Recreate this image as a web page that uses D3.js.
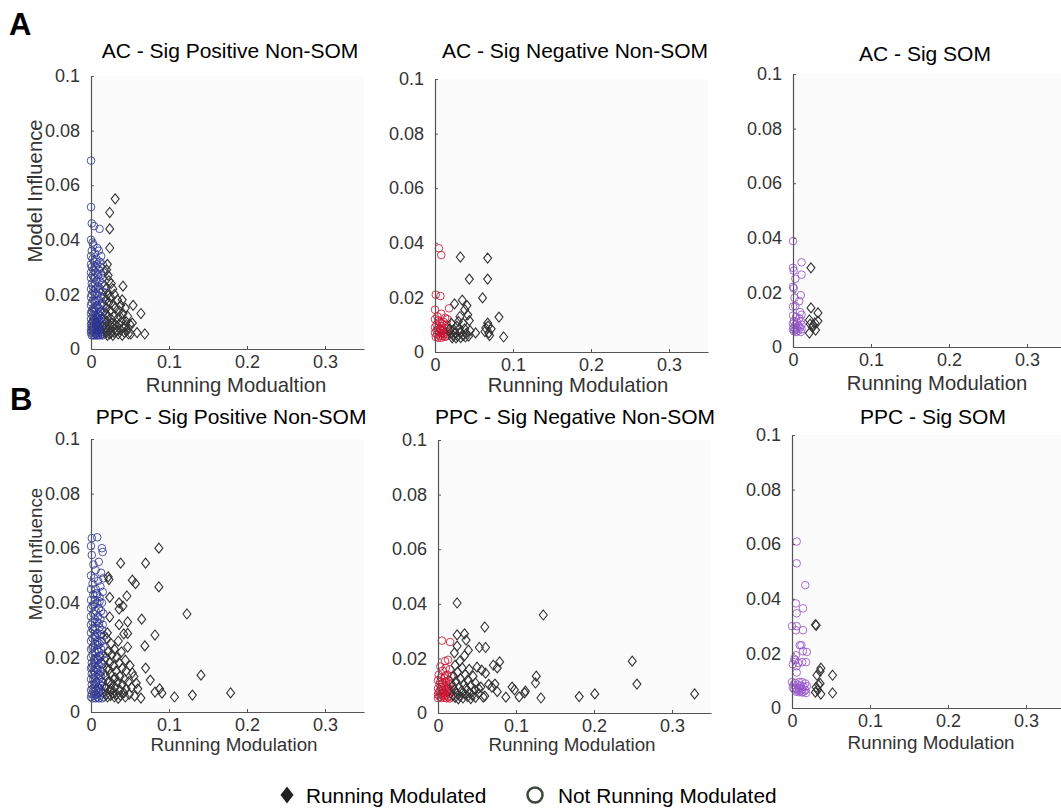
<!DOCTYPE html>
<html>
<head>
<meta charset="utf-8">
<script src="https://cdn.jsdelivr.net/npm/d3@7"></script>
<style>
  body { margin: 0; background: #fff; }
  text { font-family: "Liberation Sans", Arial, Helvetica, sans-serif; }
</style>
</head>
<body>
<script>
// ticks shared by every panel
var xTicks = [0, 0.1, 0.2, 0.3];
var yTicks = [0, 0.02, 0.04, 0.06, 0.08, 0.1];

// AC - Sig Positive Non-SOM
var acPosNot = [[0.000,0.069],[0.000,0.052],[0.001,0.046],[0.004,0.045],[0.011,0.044],[0.000,0.040],[0.002,0.039],[0.008,0.037],[0.003,0.038],[0.010,0.036],[0.001,0.036],[0.005,0.035],[0.013,0.034],[0.000,0.034],[0.007,0.033],[0.002,0.033],[0.011,0.032],[0.004,0.032],[0.015,0.031],[0.000,0.031],[0.008,0.031],[0.006,0.030],[0.012,0.030],[0.001,0.030],[0.003,0.029],[0.010,0.029],[0.016,0.028],[0.000,0.028],[0.006,0.028],[0.013,0.027],[0.002,0.027],[0.009,0.027],[0.004,0.026],[0.015,0.026],[0.000,0.026],[0.011,0.025],[0.007,0.025],[0.001,0.024],[0.005,0.024],[0.014,0.024],[0.009,0.023],[0.002,0.023],[0.017,0.023],[0.000,0.022],[0.006,0.022],[0.012,0.022],[0.003,0.021],[0.010,0.021],[0.015,0.021],[0.001,0.020],[0.008,0.020],[0.005,0.020],[0.013,0.019],[0.000,0.019],[0.017,0.019],[0.003,0.018],[0.010,0.018],[0.007,0.018],[0.014,0.017],[0.001,0.017],[0.005,0.017],[0.012,0.016],[0.000,0.016],[0.008,0.016],[0.016,0.016],[0.003,0.015],[0.010,0.015],[0.006,0.015],[0.013,0.014],[0.001,0.014],[0.017,0.014],[0.004,0.014],[0.009,0.013],[0.000,0.013],[0.015,0.013],[0.006,0.012],[0.011,0.012],[0.002,0.012],[0.013,0.011],[0.008,0.011],[0.000,0.011],[0.004,0.011],[0.016,0.011],[0.010,0.010],[0.002,0.010],[0.006,0.010],[0.014,0.010],[0.000,0.009],[0.008,0.009],[0.012,0.009],[0.004,0.009],[0.017,0.009],[0.001,0.008],[0.010,0.008],[0.006,0.008],[0.014,0.008],[0.003,0.008],[0.000,0.007],[0.008,0.007],[0.012,0.007],[0.005,0.007],[0.016,0.007],[0.002,0.007],[0.010,0.006],[0.000,0.006],[0.007,0.006],[0.013,0.006],[0.004,0.006],[0.017,0.006],[0.001,0.005],[0.009,0.005],[0.005,0.005],[0.012,0.005],[0.015,0.005],[0.003,0.005],[0.007,0.005],[0.002,0.0065],[0.006,0.0055],[0.011,0.0065],[0.014,0.0055],[0.004,0.0075],[0.009,0.0085],[0.013,0.0075],[0.001,0.0095],[0.007,0.0095],[0.015,0.0085],[0.003,0.0105],[0.011,0.0105],[0.005,0.0125],[0.009,0.0115],[0.002,0.0135],[0.012,0.0135]];
var acPosMod = [[0.031,0.055],[0.024,0.050],[0.024,0.044],[0.024,0.037],[0.021,0.031],[0.022,0.027],[0.041,0.023],[0.054,0.016],[0.064,0.013],[0.069,0.0055],[0.059,0.006],[0.051,0.0055],[0.053,0.0095],[0.040,0.018],[0.020,0.029],[0.023,0.025],[0.026,0.024],[0.019,0.022],[0.028,0.022],[0.021,0.020],[0.030,0.020],[0.025,0.019],[0.019,0.018],[0.034,0.018],[0.023,0.017],[0.028,0.016],[0.038,0.016],[0.020,0.015],[0.031,0.015],[0.044,0.015],[0.025,0.014],[0.036,0.014],[0.019,0.013],[0.041,0.013],[0.029,0.012],[0.047,0.012],[0.022,0.012],[0.034,0.011],[0.026,0.011],[0.039,0.010],[0.020,0.010],[0.045,0.010],[0.031,0.009],[0.024,0.009],[0.036,0.009],[0.050,0.009],[0.019,0.008],[0.028,0.008],[0.042,0.008],[0.033,0.007],[0.022,0.007],[0.047,0.007],[0.038,0.007],[0.026,0.006],[0.020,0.006],[0.030,0.006],[0.043,0.006],[0.035,0.0055],[0.024,0.0055],[0.048,0.0055],[0.021,0.005],[0.028,0.005],[0.040,0.005],[0.032,0.0065],[0.037,0.012],[0.027,0.0095],[0.044,0.0085]];

// AC - Sig Negative Non-SOM
var acNegNot = [[0.005,0.038],[0.008,0.0355],[0.001,0.021],[0.007,0.0205],[0.000,0.0155],[0.018,0.016],[0.008,0.014],[0.003,0.013],[0.013,0.0125],[0.000,0.012],[0.006,0.011],[0.011,0.011],[0.002,0.010],[0.015,0.010],[0.008,0.0095],[0.000,0.009],[0.004,0.0088],[0.012,0.0088],[0.017,0.0085],[0.007,0.008],[0.002,0.0078],[0.010,0.0078],[0.014,0.0075],[0.005,0.0072],[0.000,0.007],[0.008,0.0068],[0.012,0.0066],[0.016,0.0065],[0.003,0.0064],[0.006,0.006],[0.010,0.0058],[0.001,0.0055],[0.013,0.0056],[0.004,0.0052],[0.008,0.0052],[0.015,0.0058],[0.011,0.007],[0.006,0.0085],[0.009,0.0105],[0.004,0.0115],[0.016,0.012]];
var acNegMod = [[0.0325,0.0348],[0.0675,0.0344],[0.044,0.0267],[0.0675,0.0267],[0.061,0.0198],[0.082,0.0128],[0.088,0.0055],[0.052,0.007],[0.025,0.0176],[0.035,0.019],[0.041,0.017],[0.032,0.013],[0.042,0.0136],[0.0675,0.0106],[0.065,0.0088],[0.069,0.007],[0.038,0.0155],[0.044,0.0115],[0.036,0.0105],[0.021,0.0105],[0.028,0.0095],[0.019,0.0085],[0.024,0.0082],[0.031,0.0085],[0.038,0.0085],[0.045,0.0078],[0.020,0.007],[0.026,0.0068],[0.033,0.0072],[0.040,0.0068],[0.023,0.006],[0.029,0.0058],[0.036,0.006],[0.043,0.0058],[0.022,0.0052],[0.027,0.0052],[0.033,0.0053],[0.039,0.0055],[0.064,0.0075],[0.070,0.006],[0.068,0.0095],[0.072,0.0085],[0.030,0.0112]];

// AC - Sig SOM
var acSomNot = [[0.000,0.0388],[0.011,0.031],[0.000,0.029],[0.001,0.028],[0.011,0.0265],[0.003,0.025],[0.000,0.022],[0.001,0.0215],[0.010,0.019],[0.002,0.018],[0.008,0.0168],[0.000,0.0148],[0.003,0.015],[0.009,0.0128],[0.011,0.0118],[0.000,0.0115],[0.004,0.011],[0.008,0.0105],[0.001,0.0095],[0.010,0.0095],[0.005,0.009],[0.000,0.0085],[0.011,0.0082],[0.003,0.008],[0.007,0.0078],[0.001,0.0072],[0.009,0.0072],[0.005,0.0068],[0.000,0.0065],[0.011,0.0065],[0.003,0.0062],[0.007,0.006],[0.001,0.0058],[0.010,0.0055],[0.004,0.0055]];
var acSomMod = [[0.023,0.029],[0.023,0.0143],[0.032,0.0125],[0.021,0.0099],[0.032,0.0095],[0.022,0.0084],[0.029,0.0062],[0.021,0.0051],[0.026,0.0078],[0.025,0.0072],[0.028,0.0088]];

// PPC - Sig Positive Non-SOM
var ppcPosNot = [[0.008,0.064],[0.001,0.0637],[0.000,0.0608],[0.014,0.060],[0.015,0.0586],[0.001,0.0575],[0.003,0.054],[0.010,0.055],[0.006,0.052],[0.013,0.051],[0.000,0.050],[0.016,0.049],[0.004,0.049],[0.009,0.048],[0.002,0.047],[0.012,0.046],[0.006,0.045],[0.000,0.045],[0.015,0.044],[0.008,0.043],[0.003,0.043],[0.011,0.042],[0.000,0.041],[0.005,0.041],[0.014,0.040],[0.008,0.040],[0.002,0.039],[0.010,0.038],[0.000,0.038],[0.006,0.037],[0.013,0.037],[0.003,0.036],[0.016,0.036],[0.009,0.035],[0.000,0.035],[0.005,0.034],[0.012,0.034],[0.002,0.033],[0.008,0.033],[0.015,0.032],[0.000,0.032],[0.005,0.031],[0.011,0.031],[0.003,0.030],[0.014,0.030],[0.008,0.029],[0.000,0.029],[0.017,0.028],[0.005,0.028],[0.011,0.028],[0.002,0.027],[0.008,0.026],[0.014,0.026],[0.000,0.026],[0.005,0.025],[0.011,0.025],[0.003,0.024],[0.016,0.024],[0.008,0.023],[0.000,0.023],[0.013,0.023],[0.005,0.022],[0.010,0.022],[0.002,0.021],[0.015,0.021],[0.007,0.020],[0.000,0.020],[0.012,0.020],[0.004,0.019],[0.009,0.019],[0.017,0.019],[0.001,0.018],[0.006,0.018],[0.013,0.018],[0.010,0.017],[0.003,0.017],[0.015,0.016],[0.000,0.016],[0.007,0.016],[0.012,0.015],[0.004,0.015],[0.009,0.014],[0.016,0.014],[0.001,0.014],[0.006,0.013],[0.013,0.013],[0.003,0.012],[0.010,0.012],[0.000,0.012],[0.015,0.011],[0.007,0.011],[0.004,0.010],[0.012,0.010],[0.001,0.010],[0.009,0.009],[0.017,0.009],[0.005,0.009],[0.000,0.008],[0.013,0.008],[0.007,0.008],[0.003,0.0075],[0.010,0.007],[0.015,0.007],[0.001,0.0065],[0.006,0.0065],[0.012,0.006],[0.004,0.006],[0.008,0.0055],[0.016,0.0055],[0.000,0.0055],[0.002,0.005],[0.010,0.005],[0.014,0.005],[0.006,0.005],[0.002,0.0085],[0.011,0.0085],[0.014,0.0095],[0.006,0.0105],[0.003,0.0135],[0.011,0.0135],[0.008,0.0155],[0.001,0.0165],[0.014,0.0175],[0.005,0.0195],[0.011,0.0205],[0.002,0.0235],[0.009,0.0245],[0.006,0.0275],[0.013,0.0285],[0.002,0.0305],[0.010,0.0325],[0.004,0.0395],[0.011,0.0405],[0.007,0.0435]];
var ppcPosMod = [[0.087,0.060],[0.038,0.0545],[0.070,0.0545],[0.053,0.0483],[0.057,0.047],[0.087,0.0458],[0.024,0.042],[0.046,0.0425],[0.036,0.040],[0.041,0.0388],[0.036,0.0377],[0.123,0.0359],[0.065,0.034],[0.024,0.0348],[0.047,0.033],[0.036,0.032],[0.042,0.0286],[0.047,0.0288],[0.082,0.0282],[0.021,0.029],[0.069,0.0242],[0.047,0.0238],[0.035,0.026],[0.070,0.0161],[0.141,0.0135],[0.076,0.0117],[0.053,0.0143],[0.058,0.0106],[0.082,0.0073],[0.091,0.0069],[0.088,0.0085],[0.107,0.0055],[0.130,0.0062],[0.179,0.007],[0.064,0.0051],[0.060,0.0085],[0.022,0.0495],[0.023,0.0485],[0.020,0.027],[0.026,0.025],[0.030,0.023],[0.022,0.022],[0.039,0.022],[0.027,0.021],[0.033,0.020],[0.019,0.020],[0.044,0.019],[0.024,0.018],[0.036,0.018],[0.029,0.017],[0.050,0.017],[0.021,0.016],[0.040,0.016],[0.032,0.015],[0.045,0.015],[0.025,0.014],[0.019,0.013],[0.037,0.013],[0.055,0.013],[0.029,0.012],[0.043,0.012],[0.022,0.011],[0.034,0.011],[0.048,0.011],[0.026,0.010],[0.040,0.010],[0.019,0.009],[0.031,0.009],[0.052,0.009],[0.045,0.0085],[0.024,0.008],[0.037,0.008],[0.028,0.007],[0.042,0.007],[0.020,0.0065],[0.033,0.0065],[0.049,0.0065],[0.025,0.006],[0.038,0.006],[0.021,0.0055],[0.030,0.0055],[0.044,0.0055],[0.035,0.005],[0.056,0.0058],[0.026,0.0085],[0.031,0.0125],[0.023,0.0155]];

// PPC - Sig Negative Non-SOM
var ppcNegNot = [[0.005,0.0265],[0.0155,0.026],[0.013,0.0195],[0.009,0.019],[0.003,0.017],[0.010,0.0165],[0.015,0.016],[0.006,0.0155],[0.001,0.014],[0.012,0.014],[0.017,0.0135],[0.004,0.013],[0.008,0.0128],[0.014,0.012],[0.000,0.012],[0.010,0.0115],[0.006,0.011],[0.002,0.0105],[0.016,0.0105],[0.012,0.010],[0.008,0.0098],[0.004,0.0095],[0.000,0.009],[0.014,0.0088],[0.010,0.0085],[0.006,0.0083],[0.017,0.008],[0.002,0.008],[0.012,0.0075],[0.008,0.0073],[0.004,0.007],[0.015,0.007],[0.000,0.0068],[0.010,0.0065],[0.006,0.0063],[0.013,0.006],[0.002,0.006],[0.017,0.0058],[0.008,0.0056],[0.004,0.0055],[0.011,0.0054],[0.000,0.0055],[0.015,0.0053],[0.006,0.0075],[0.012,0.009],[0.003,0.0115],[0.009,0.0135],[0.005,0.0085],[0.014,0.0105],[0.001,0.0075]];
var ppcNegMod = [[0.0245,0.0403],[0.135,0.0359],[0.060,0.0315],[0.0245,0.0286],[0.034,0.029],[0.0245,0.0245],[0.036,0.0267],[0.053,0.024],[0.061,0.024],[0.039,0.023],[0.021,0.022],[0.034,0.021],[0.079,0.0187],[0.071,0.0175],[0.076,0.0165],[0.249,0.019],[0.255,0.0106],[0.126,0.0135],[0.125,0.011],[0.132,0.0055],[0.181,0.006],[0.201,0.007],[0.329,0.007],[0.050,0.0168],[0.056,0.0157],[0.061,0.0146],[0.073,0.0106],[0.076,0.0078],[0.087,0.0058],[0.095,0.0095],[0.098,0.0085],[0.104,0.0059],[0.111,0.0074],[0.112,0.008],[0.058,0.0058],[0.052,0.009],[0.028,0.019],[0.022,0.0175],[0.031,0.0165],[0.040,0.016],[0.025,0.015],[0.035,0.014],[0.020,0.0135],[0.045,0.0135],[0.029,0.0125],[0.038,0.012],[0.023,0.0115],[0.048,0.011],[0.033,0.0105],[0.019,0.010],[0.042,0.010],[0.027,0.0095],[0.055,0.0095],[0.036,0.009],[0.021,0.0085],[0.047,0.0085],[0.030,0.008],[0.040,0.0075],[0.024,0.0072],[0.052,0.0072],[0.034,0.007],[0.019,0.0065],[0.044,0.0065],[0.028,0.0062],[0.038,0.006],[0.022,0.0057],[0.048,0.0057],[0.032,0.0055],[0.042,0.0053],[0.026,0.0052],[0.060,0.0062],[0.065,0.0105],[0.069,0.0095]];

// PPC - Sig SOM
var ppcSomNot = [[0.006,0.061],[0.006,0.053],[0.017,0.045],[0.005,0.0383],[0.014,0.0365],[0.006,0.0347],[0.000,0.030],[0.006,0.030],[0.014,0.0285],[0.005,0.0285],[0.012,0.023],[0.010,0.023],[0.014,0.0208],[0.019,0.0205],[0.005,0.0193],[0.003,0.018],[0.001,0.016],[0.006,0.0153],[0.006,0.013],[0.018,0.0168],[0.013,0.0168],[0.004,0.0175],[0.008,0.0165],[0.000,0.0095],[0.004,0.0092],[0.009,0.0095],[0.013,0.0095],[0.017,0.009],[0.002,0.0085],[0.007,0.0085],[0.011,0.0082],[0.015,0.0078],[0.019,0.008],[0.001,0.0075],[0.005,0.0072],[0.009,0.0072],[0.013,0.0068],[0.017,0.0065],[0.003,0.0068],[0.007,0.0065],[0.011,0.0062],[0.015,0.006],[0.005,0.006],[0.009,0.0058],[0.013,0.0057],[0.018,0.0055]];
var ppcSomMod = [[0.031,0.0303],[0.030,0.0305],[0.037,0.0146],[0.036,0.0135],[0.032,0.012],[0.052,0.012],[0.036,0.009],[0.031,0.0076],[0.033,0.0066],[0.030,0.0058],[0.037,0.0051],[0.052,0.0055],[0.034,0.0085]];

var width = 1061,
    height = 810,
    size = 273;

var panels = [
    {left: 91,  top: 76,  title: "AC - Sig Positive Non-SOM",  titleX: 230, titleY: 58,  xlab: "Running Modualtion", xlabX: 236, xlabY: 392, ylab: "Model Influence", notMod: acPosNot,  mod: acPosMod,  color: "#2b3391", labSize: 20.3},
    {left: 435, top: 79,  title: "AC - Sig Negative Non-SOM",  titleX: 575, titleY: 58,  xlab: "Running Modulation", xlabX: 578, xlabY: 392, ylab: null, notMod: acNegNot,  mod: acNegMod,  color: "#c8102e", labSize: 20.3},
    {left: 793, top: 74,  title: "AC - Sig SOM",               titleX: 925, titleY: 61,  xlab: "Running Modulation", xlabX: 937, xlabY: 390, ylab: null, notMod: acSomNot,  mod: acSomMod,  color: "#9250c8", labSize: 20.3},
    {left: 91,  top: 439, title: "PPC - Sig Positive Non-SOM", titleX: 231, titleY: 424, xlab: "Running Modulation", xlabX: 234, xlabY: 751, ylab: "Model Influence", notMod: ppcPosNot, mod: ppcPosMod, color: "#2b3391", labSize: 18.8},
    {left: 438, top: 440, title: "PPC - Sig Negative Non-SOM", titleX: 575, titleY: 424, xlab: "Running Modulation", xlabX: 572, xlabY: 751, ylab: null, notMod: ppcNegNot, mod: ppcNegMod, color: "#c8102e", labSize: 18.8},
    {left: 792, top: 435, title: "PPC - Sig SOM",              titleX: 933, titleY: 424, xlab: "Running Modulation", xlabX: 931, xlabY: 749, ylab: null, notMod: ppcSomNot, mod: ppcSomMod, color: "#9250c8", labSize: 18.8}
];

var diamond = "M0,-5L4,0L0,5L-4,0Z";

var svg = d3.select("body")
    .append("svg")
    .attr("width", width)
    .attr("height", height);

panels.forEach(drawPanel);

function drawPanel(p) {
    var x = d3.scaleLinear().domain([0, 0.35]).range([0, size]);
    var y = d3.scaleLinear().domain([0, 0.1]).range([size, 0]);
    var fmt = function(d) { return String(+d.toFixed(2)); };

    var g = svg.append("g")
        .attr("transform", "translate(" + p.left + "," + p.top + ")");

    g.append("rect")
        .attr("width", size)
        .attr("height", size)
        .attr("fill", "#fbfbfb");

    // not running modulated - open circles
    g.selectAll(".notmod")
        .data(p.notMod)
        .enter().append("circle")
        .attr("class", "notmod")
        .attr("cx", function(d) { return x(d[0]); })
        .attr("cy", function(d) { return y(d[1]); })
        .attr("r", 3.8)
        .attr("fill", "none")
        .attr("stroke", p.color)
        .attr("stroke-opacity", 0.82)
        .attr("stroke-width", 1);

    // running modulated - open diamonds
    g.selectAll(".mod")
        .data(p.mod)
        .enter().append("path")
        .attr("class", "mod")
        .attr("d", diamond)
        .attr("transform", function(d) { return "translate(" + x(d[0]) + "," + y(d[1]) + ")"; })
        .attr("fill", "none")
        .attr("stroke", "#333")
        .attr("stroke-width", 1.1);

    var yAxis = g.append("g")
        .call(d3.axisLeft(y).tickValues(yTicks).tickFormat(fmt).tickSizeInner(-3).tickSizeOuter(0).tickPadding(11));
    var xAxis = g.append("g")
        .attr("transform", "translate(0," + size + ")")
        .call(d3.axisBottom(x).tickValues(xTicks).tickFormat(fmt).tickSizeInner(-3).tickSizeOuter(0).tickPadding(6));

    [xAxis, yAxis].forEach(function(a) {
        a.select(".domain").attr("stroke", "#555").attr("stroke-width", 1.2);
        a.selectAll(".tick line").attr("stroke", "#555");
        a.selectAll(".tick text")
            .attr("fill", "#333")
            .style("font-size", "18px")
            .style("font-family", "'Liberation Sans', Arial, sans-serif");
    });

    svg.append("text")
        .attr("x", p.titleX)
        .attr("y", p.titleY)
        .attr("text-anchor", "middle")
        .style("font-size", "21px")
        .attr("fill", "#000")
        .text(p.title);

    svg.append("text")
        .attr("x", p.xlabX)
        .attr("y", p.xlabY)
        .attr("text-anchor", "middle")
        .style("font-size", p.labSize + "px")
        .attr("fill", "#333")
        .text(p.xlab);

    if (p.ylab) {
        svg.append("text")
            .attr("transform", "translate(" + (p.left - 49) + "," + (p.top + 115) + ") rotate(-90)")
            .attr("text-anchor", "middle")
            .style("font-size", p.labSize + "px")
            .attr("fill", "#333")
            .text(p.ylab);
    }
}

// panel letters
svg.append("text").attr("x", 9).attr("y", 35)
    .style("font-size", "31px").style("font-weight", "bold").text("A");
svg.append("text").attr("x", 10).attr("y", 410)
    .style("font-size", "31px").style("font-weight", "bold").text("B");

// legend
var legend = svg.append("g");
legend.append("path")
    .attr("d", "M0,-8.5L6.5,0L0,8.5L-6.5,0Z")
    .attr("transform", "translate(287,795)")
    .attr("fill", "#222");
legend.append("text")
    .attr("x", 306).attr("y", 803)
    .style("font-size", "20.8px")
    .text("Running Modulated");
legend.append("circle")
    .attr("cx", 535).attr("cy", 795).attr("r", 7.5)
    .attr("fill", "none")
    .attr("stroke", "#3d473d")
    .attr("stroke-width", 2.5);
legend.append("text")
    .attr("x", 558).attr("y", 803)
    .style("font-size", "20.8px")
    .text("Not Running Modulated");
</script>
</body>
</html>
